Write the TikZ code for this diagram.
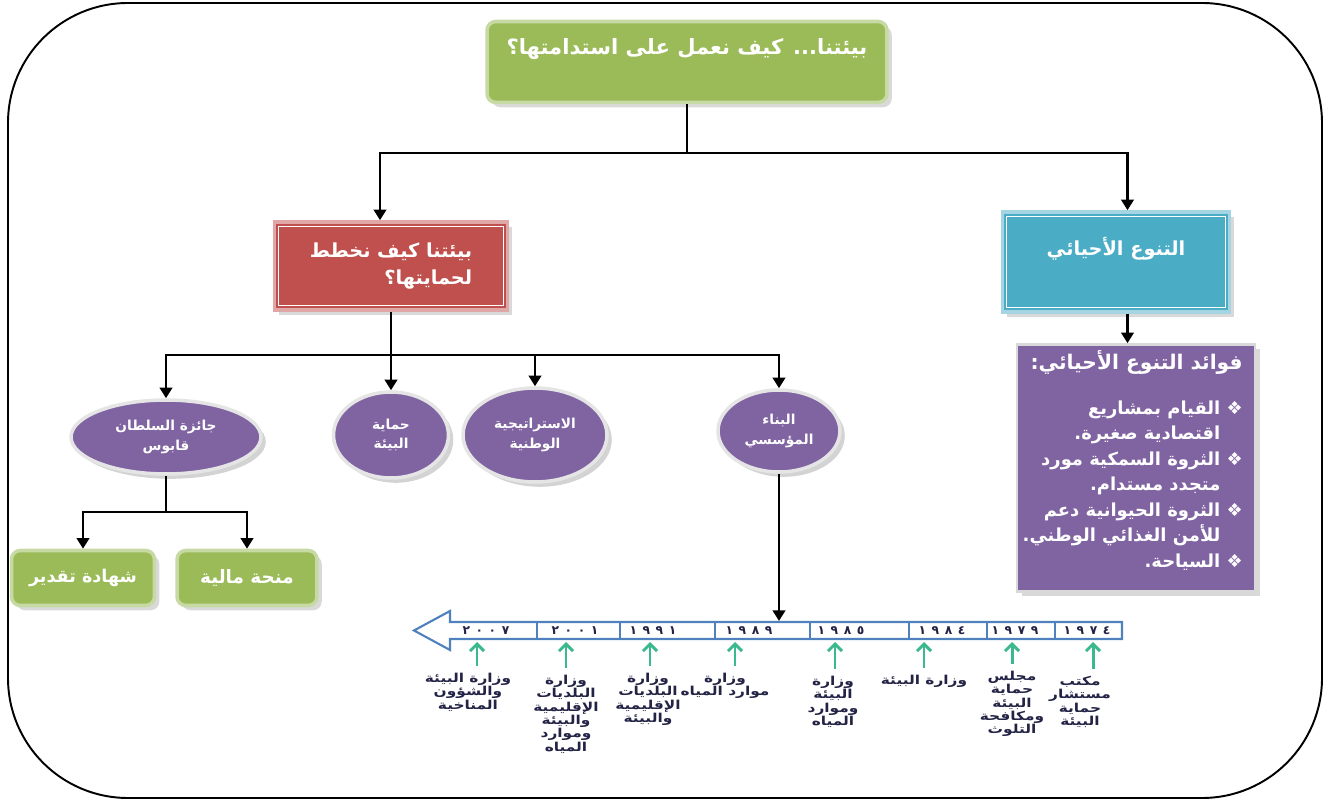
\documentclass[tikz,border=0pt]{standalone}
\usepackage{fontspec}
\usepackage{tikz}
\usetikzlibrary{arrows.meta,shapes.geometric,shadows}
\setmainfont{DejaVu Sans}
\newfontfamily\arabicfont[Script=Arabic]{DejaVu Sans}
\newfontfamily\captionfont[Script=Arabic,FakeStretch=1.25]{DejaVu Sans}
\newfontfamily\symfont{DejaVu Sans}
\newfontfamily\yearfont[LetterSpace=45]{DejaVu Sans}
\TeXXeTstate=1

\definecolor{boxgreen}{RGB}{155,187,89}
\definecolor{boxred}{RGB}{192,80,77}
\definecolor{boxteal}{RGB}{75,172,198}
\definecolor{boxpurple}{RGB}{128,100,162}
\definecolor{lineblue}{RGB}{79,129,189}
\definecolor{arrowgreen}{RGB}{60,185,140}
\definecolor{labelnavy}{RGB}{35,35,70}

\newcommand{\artext}[1]{\beginR #1\endR}
\newcommand{\bul}{\mbox{\symfont\mdseries ❖}}

\tikzset{
  conn/.style={line width=1.5pt, -{Triangle[width=7pt,length=6pt]}},
  plainconn/.style={line width=1.5pt},
  greenbox/.style={fill=boxgreen, draw=boxgreen!55!white, line width=2pt, rounded corners=5pt,
    text=white, drop shadow={opacity=0.3}},
  framebox/.style={draw=#1!50!white, line width=2pt, text=white, drop shadow={opacity=0.3}},
  oval/.style={ellipse, fill=boxpurple, draw=gray!20, line width=2pt, text=white, align=center,
    inner sep=0pt, drop shadow={opacity=0.35}, font=\arabicfont\bfseries\fontsize{7.8}{11}\selectfont},
  year/.style={font=\yearfont\bfseries\fontsize{7}{7}\selectfont, text=labelnavy},
  caption/.style={anchor=north, align=center, text=labelnavy, inner sep=1pt,
    font=\captionfont\bfseries\fontsize{7}{7.6}\selectfont},
  garrow/.style={arrowgreen, line width=1.7pt, -{Straight Barb[length=4pt,width=8pt]}, shorten <=3pt}
}

\begin{document}
\begin{tikzpicture}[x=0.02cm, y=-0.02cm]
  \useasboundingbox (0,0) rectangle (1330,800);

  % Outer frame
  \draw[line width=1.1pt, rounded corners=2.4cm] (8,3) rectangle (1322,798);

  % Title
  \node[greenbox, minimum width=8cm, minimum height=1.62cm, text height=10pt, text depth=18pt,
    font=\arabicfont\bfseries\fontsize{12}{14}\selectfont] (top) at (687,62)
    {\artext{بيئتنا... كيف نعمل على استدامتها؟}};

  % Second level boxes
  \node[framebox=boxred, fill=boxred, minimum width=4.66cm, minimum height=1.76cm, align=right,
    font=\arabicfont\bfseries\fontsize{11}{15}\selectfont] (plan) at (391,266)
    {\artext{بيئتنا كيف نخطط}\\\artext{لحمايتها؟}};
  \draw[white, line width=0.6pt] ([shift={(6,6)}]plan.north west) rectangle ([shift={(-6,-6)}]plan.south east);

  \node[framebox=boxteal, fill=boxteal, minimum width=4.54cm, minimum height=2cm, text height=9pt,
    text depth=16pt, font=\arabicfont\bfseries\fontsize{11}{13}\selectfont] (bio) at (1116,262)
    {\artext{التنوع الأحيائي}};
  \draw[white, line width=0.6pt] ([shift={(6,6)}]bio.north west) rectangle ([shift={(-6,-6)}]bio.south east);

  % Benefits
  \node[fill=boxpurple, draw=gray!30, line width=1.5pt, minimum width=4.76cm, minimum height=4.94cm,
    drop shadow={opacity=0.3}] (gain) at (1136,468) {};
  \node[text=white, align=right, anchor=north east, inner sep=0pt,
    font=\arabicfont\bfseries\fontsize{10.2}{14.5}\selectfont] (gainlist) at (1243,350)
    {\artext{\fontsize{11.5}{14.5}\selectfont فوائد التنوع الأحيائي:}\\[11pt]
     \artext{\bul\ القيام بمشاريع}\\
     \artext{\hphantom{\bul\ }اقتصادية صغيرة.}\\
     \artext{\bul\ الثروة السمكية مورد}\\
     \artext{\hphantom{\bul\ }متجدد مستدام.}\\
     \artext{\bul\ الثروة الحيوانية دعم}\\
     \artext{\hphantom{\bul\ }للأمن الغذائي الوطني.}\\
     \artext{\bul\ السياحة.}};

  % Ovals
  \node[oval, minimum width=3.8cm, minimum height=1.48cm] (prize) at (166,437)
    {\artext{جائزة السلطان}\\\artext{قابوس}};
  \node[oval, minimum width=2.3cm, minimum height=1.72cm] (protect) at (391,435)
    {\artext{حماية}\\\artext{البيئة}};
  \node[oval, minimum width=2.88cm, minimum height=1.88cm] (plan2) at (535,435)
    {\artext{الاستراتيجية}\\\artext{الوطنية}};
  \node[oval, minimum width=2.44cm, minimum height=1.64cm] (build) at (779,431)
    {\artext{البناء}\\\artext{المؤسسي}};

  % Prize boxes
  \node[greenbox, minimum width=2.86cm, minimum height=1.1cm,
    font=\arabicfont\bfseries\fontsize{10}{12}\selectfont] (cert) at (83,578) {\artext{شهادة تقدير}};
  \node[greenbox, minimum width=2.8cm, minimum height=1.1cm,
    font=\arabicfont\bfseries\fontsize{10.5}{12}\selectfont] (grant) at (247,578) {\artext{منحة مالية}};

  % Connectors
  \coordinate (topjoin) at (687,153);
  \draw[plainconn] (top.south) -- (topjoin);
  \draw[conn] (topjoin) -| ([xshift=-0.22cm]plan.north);
  \draw[conn] (topjoin) -| ([xshift=0.23cm]bio.north);
  \draw[conn] ([xshift=0.23cm]bio.south) -- ([xshift=0.23cm]bio.south |- gain.north);

  \coordinate (planjoin) at (391,355);
  \draw[plainconn] (plan.south) -- (planjoin);
  \draw[conn] (planjoin) -| (prize.north);
  \draw[conn] (planjoin) -- (protect.north);
  \draw[conn] (planjoin) -| (plan2.north);
  \draw[conn] (planjoin) -| (build.north);

  \coordinate (prizejoin) at (166,512);
  \draw[plainconn] (prize.south) -- (prizejoin);
  \draw[conn] (prizejoin) -| (cert.north);
  \draw[conn] (prizejoin) -| (grant.north);

  % Time line
  \draw[lineblue, line width=1.2pt, fill=white]
    (1122,622) -- (450,622) -- (450,611) -- (414,630.5) -- (450,650) -- (450,639) -- (1122,639) -- cycle;
  \draw[lineblue, line width=1.2pt] (537,622) -- (537,639);
  \draw[lineblue, line width=1.2pt] (620,622) -- (620,639);
  \draw[lineblue, line width=1.2pt] (715,622) -- (715,639);
  \draw[lineblue, line width=1.2pt] (810,622) -- (810,639);
  \draw[lineblue, line width=1.2pt] (909,622) -- (909,639);
  \draw[lineblue, line width=1.2pt] (987,622) -- (987,639);
  \draw[lineblue, line width=1.2pt] (1055,622) -- (1055,639);

  \node[year] (y2007) at (486,630.5) {٢٠٠٧};
  \node[year] (y2001) at (575,630.5) {٢٠٠١};
  \node[year] (y1991) at (653,630.5) {١٩٩١};
  \node[year] (y1989) at (749,630.5) {١٩٨٩};
  \node[year] (y1985) at (841,630.5) {١٩٨٥};
  \node[year] (y1984) at (942,630.5) {١٩٨٤};
  \node[year] (y1979) at (1015,630.5) {١٩٧٩};
  \node[year] (y1974) at (1087,630.5) {١٩٧٤};

  \coordinate (c1989) at (779,621);
  \draw[conn] (build.south) -- (c1989);

  % Ministries
  \node[caption] (m2007) at (468,671) {\artext{وزارة البيئة}\\\artext{والشؤون}\\\artext{المناخية}};
  \node[caption] (m2001) at (566,673) {\artext{وزارة}\\\artext{البلديات}\\\artext{الإقليمية}\\\artext{والبيئة}\\\artext{وموارد}\\\artext{المياه}};
  \node[caption] (m1991) at (648,671) {\artext{وزارة}\\\artext{البلديات}\\\artext{الإقليمية}\\\artext{والبيئة}};
  \node[caption] (m1989) at (725,671) {\artext{وزارة}\\\artext{موارد المياه}};
  \node[caption] (m1985) at (833,674) {\artext{وزارة}\\\artext{البيئة}\\\artext{وموارد}\\\artext{المياه}};
  \node[caption] (m1984) at (924,673) {\artext{وزارة البيئة}};
  \node[caption] (m1979) at (1012,669) {\artext{مجلس}\\\artext{حماية}\\\artext{البيئة}\\\artext{ومكافحة}\\\artext{التلوث}};
  \node[caption] (m1974) at (1080,674) {\artext{مكتب}\\\artext{مستشار}\\\artext{حماية}\\\artext{البيئة}};

  \coordinate (b2007) at (477,642);
  \coordinate (b2001) at (566,642);
  \coordinate (b1991) at (650,642);
  \coordinate (b1989) at (735,642);
  \coordinate (b1985) at (835,642);
  \coordinate (b1984) at (924,642);
  \coordinate (b1979) at (1012,642);
  \coordinate (b1974) at (1093,642);
  \draw[garrow] (b2007 |- m2007.north) -- (b2007);
  \draw[garrow] (b2001 |- m2001.north) -- (b2001);
  \draw[garrow] (b1991 |- m1991.north) -- (b1991);
  \draw[garrow] (b1989 |- m1989.north) -- (b1989);
  \draw[garrow] (b1985 |- m1985.north) -- (b1985);
  \draw[garrow] (b1984 |- m1984.north) -- (b1984);
  \draw[garrow] (b1979 |- m1979.north) -- (b1979);
  \draw[garrow] (b1974 |- m1974.north) -- (b1974);
\end{tikzpicture}
\end{document}
